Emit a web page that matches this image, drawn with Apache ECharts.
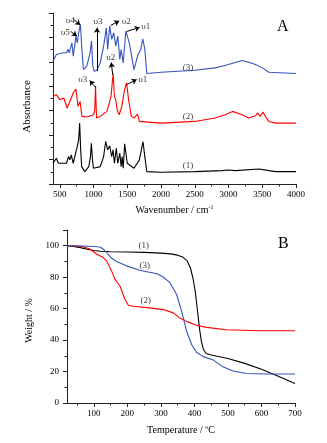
<!DOCTYPE html>
<html><head><meta charset="utf-8">
<script src="https://cdn.jsdelivr.net/npm/echarts@6/dist/echarts.min.js"></script>
<style>html,body{margin:0;padding:0;background:#fff}#c{width:327px;height:443px}</style>
</head><body><div id="c"></div>
<script>
// ---- Panel A: FTIR spectra (absorbance, arbitrary offset units) ----
const wn1 = [400,450,480,600,630,650,670,700,740,760,780,795,810,825,870,930,955,968,985,1000,1100,1150,1180,1210,1240,1270,1290,1310,1338,1360,1390,1410,1425,1440,1462,1500,1600,1680,1733,1760,1790,2000,2500,2900,3000,3100,3450,3600,3700,4000];
const abs1 = [62,77,62,62,82,72,87,62,97,112,132,182,102,52,37,52,82,122,72,47,52,82,127,102,114,82,102,62,107,62,92,52,82,47,120,62,47,72,127,82,37,35,37,40,42,40,45,40,37,37];
const wn2 = [400,450,500,560,610,700,740,770,800,830,900,1000,1018,1030,1045,1100,1200,1260,1290,1310,1330,1350,1380,1420,1460,1490,1520,1560,1600,1650,1680,1700,2000,2500,2800,2950,3060,3200,3300,3400,3430,3470,3510,3560,3600,3700,4000];
const abs2 = [262,267,252,257,227,272,284,232,247,202,200,207,220,292,197,202,217,262,330,262,252,222,207,232,282,302,252,202,197,209,187,182,182,187,197,207,217,207,197,204,212,202,215,197,187,182,182];
const wn3 = [400,450,550,600,620,640,660,680,700,720,740,760,790,806,825,850,900,950,970,990,1010,1050,1100,1150,1190,1210,1240,1270,1300,1330,1360,1390,1410,1440,1480,1530,1600,1660,1700,1730,1760,1790,2000,2500,2800,2900,3000,3200,3300,3400,3500,3600,4000];
const abs3 = [367,387,392,392,402,392,407,422,382,412,442,422,462,477,412,342,352,392,427,352,337,340,362,412,467,402,472,432,452,412,442,372,402,362,457,422,342,387,402,434,402,330,334,340,347,352,357,369,364,357,347,334,330];
const wnMajorTicks = [500,1000,1500,2000,2500,3000,3500,4000];
const wnMinorTicks = [750,1250,1750,2250,2750,3250,3750];
// annotation arrows [from, to] and texts [x, y, text]
const arrowsA = [
  [[662,456],[755,442]], [[707,492],[803,475]], [[1052,337],[1052,467]],
  [[1255,474],[1381,487]], [[1492,456],[1684,468]],
  [[1033,288],[944,309]], [[1285,327],[1262,363]], [[1492,297],[1640,312]]
];
const textsA = [
  [581,453,'υ5'],[655,489,'υ4'],[1067,484,'υ3'],[1484,486,'υ2'],[1773,471,'υ1'],
  [840,312,'υ3'],[1255,377,'υ2'],[1729,312,'υ1'],
  [2400,347,'(3)'],[2400,200,'(2)'],[2400,55,'(1)']
];

// ---- Panel B: TGA ----
const T1 = [20,40,60,80,100,120,150,200,250,300,330,350,365,378,388,396,403,410,416,421,427,435,450,500,550,600,650,700];
const W1 = [100,99.6,98.8,97.8,97,96.5,96.2,96,95.8,95.3,94.8,94,92.8,90.5,86,79,70,57,46,39,34,31.5,30.5,28.3,25.2,21.5,17,12.4];
const T2 = [20,50,68,88,108,128,138,153,163,178,193,203,217,267,307,337,357,377,406,436,496,595,700];
const W2 = [100,99.8,99.4,97.9,94.7,92.5,90.4,84,78.6,74.4,65.8,62.2,61.5,60.5,59.4,57.3,54,51.9,49.4,48.1,46.6,45.9,45.9];
const T3 = [20,60,100,118,128,138,153,168,197,237,257,287,307,327,347,362,377,392,406,426,456,485,515,555,615,700];
const W3 = [100,99.8,99.5,99.2,97.9,95.7,92,90,87.2,84.4,83.5,82.3,80.1,76.5,69,58.3,45.5,37,32.3,29.5,27.4,23,20.3,18.8,18.4,18.4];
const tMajorTicks = [100,200,300,400,500,600,700];
const tMinorTicks = [50,150,250,350,450,550,650];
const textsB = [[249,100,'(1)'],[252,87.6,'(3)'],[255,65.2,'(2)']];

const FONT = 'Liberation Serif';
const zip = (a, b) => a.map((v, i) => [v, b[i]]);
const axisLineStyle = {lineStyle: {color: '#222', width: 1}};
const lab = {color: '#000', fontFamily: FONT, fontSize: 9, formatter: v => String(v)};

function lineSeries(x, y, color, xi, yi) {
  return {type: 'line', data: zip(x, y), xAxisIndex: xi, yAxisIndex: yi, showSymbol: false,
    lineStyle: {color: color, width: 1.1}, itemStyle: {color: color}, animation: false, silent: true, z: 3};
}
function textSeries(data, xi, yi) {
  return {type: 'scatter', data: data, xAxisIndex: xi, yAxisIndex: yi, symbolSize: 2,
    itemStyle: {color: 'rgba(0,0,0,0)'}, animation: false, silent: true, z: 5,
    label: {show: true, position: 'inside', formatter: p => p.data[2], color: '#000', fontFamily: FONT, fontSize: 9},
    labelLayout: {hideOverlap: false}};
}

const chart = echarts.init(document.getElementById('c'), null, {renderer: 'canvas'});
chart.setOption({
  backgroundColor: '#fff',
  animation: false,
  grid: [
    {left: 53, top: 13, width: 243, height: 171},
    {left: 67, top: 230, width: 228, height: 173}
  ],
  xAxis: [
    {gridIndex: 0, type: 'value', min: 400, max: 4000, position: 'bottom',
     axisLine: axisLineStyle, splitLine: {show: false},
     axisTick: {length: 4, lineStyle: {color: '#222'}, customValues: wnMajorTicks},
     axisLabel: Object.assign({margin: 6, customValues: wnMajorTicks}, lab),
     name: 'Wavenumber / cm{sup|-1}', nameLocation: 'middle', nameGap: 20,
     nameTextStyle: {color: '#000', fontFamily: FONT, fontSize: 10,
       rich: {sup: {fontSize: 6, verticalAlign: 'top', padding: [0,0,6,0], fontFamily: FONT, color: '#000'}}}},
    {gridIndex: 0, type: 'value', min: 400, max: 4000, position: 'bottom',
     axisLine: {show: false}, splitLine: {show: false},
     axisTick: {length: 2.5, lineStyle: {color: '#222'}, customValues: wnMinorTicks},
     axisLabel: {show: false}},
    {gridIndex: 1, type: 'value', min: 20, max: 700, position: 'bottom',
     axisLine: axisLineStyle, splitLine: {show: false},
     axisTick: {length: 4, lineStyle: {color: '#222'}, customValues: tMajorTicks},
     axisLabel: Object.assign({margin: 6, customValues: tMajorTicks}, lab),
     name: 'Temperature / {sup|o}C', nameLocation: 'middle', nameGap: 21,
     nameTextStyle: {color: '#000', fontFamily: FONT, fontSize: 10,
       rich: {sup: {fontSize: 6, verticalAlign: 'top', padding: [0,0,6,0], fontFamily: FONT, color: '#000'}}}},
    {gridIndex: 1, type: 'value', min: 20, max: 700, position: 'bottom',
     axisLine: {show: false}, splitLine: {show: false},
     axisTick: {length: 2.5, lineStyle: {color: '#222'}, customValues: tMinorTicks},
     axisLabel: {show: false}}
  ],
  yAxis: [
    {gridIndex: 0, type: 'value', min: 0, max: 511, interval: 73, position: 'left',
     axisLine: Object.assign({show: true}, axisLineStyle), splitLine: {show: false},
     axisTick: {show: true, length: 4, lineStyle: {color: '#222'}},
     minorTick: {show: true, splitNumber: 2, length: 2.5, lineStyle: {color: '#222'}},
     axisLabel: {show: false},
     name: 'Absorbance', nameLocation: 'middle', nameGap: 20,
     nameTextStyle: {color: '#000', fontFamily: FONT, fontSize: 11, padding: [0, 16, 0, 0]}},
    {gridIndex: 1, type: 'value', min: 0, max: 110, interval: 20, position: 'left',
     axisLine: Object.assign({show: true}, axisLineStyle), splitLine: {show: false},
     axisTick: {show: true, length: 4, lineStyle: {color: '#222'}},
     minorTick: {show: true, splitNumber: 2, length: 2.5, lineStyle: {color: '#222'}},
     axisLabel: Object.assign({margin: 8, showMaxLabel: false}, lab),
     name: 'Weight / %', nameLocation: 'middle', nameGap: 33,
     nameTextStyle: {color: '#000', fontFamily: FONT, fontSize: 10, padding: [0, 8, 0, 0]}}
  ],
  graphic: [
    {type: 'text', left: 277, top: 19, style: {text: 'A', font: '16px "Liberation Serif"', fill: '#000'}},
    {type: 'text', left: 278, top: 236, style: {text: 'B', font: '16px "Liberation Serif"', fill: '#000'}}
  ],
  series: [
    lineSeries(wn1, abs1, '#000000', 0, 0),
    lineSeries(wn2, abs2, '#ff0000', 0, 0),
    lineSeries(wn3, abs3, '#3553bd', 0, 0),
    {type: 'lines', coordinateSystem: 'cartesian2d', xAxisIndex: 0, yAxisIndex: 0,
     data: arrowsA.map(a => ({coords: a})), symbol: ['none', 'arrow'], symbolSize: 5,
     lineStyle: {color: '#000', width: 1, opacity: 1, curveness: 0}, animation: false, silent: true, z: 4},
    textSeries(textsA, 0, 0),
    lineSeries(T1, W1, '#000000', 2, 1),
    lineSeries(T2, W2, '#ff0000', 2, 1),
    lineSeries(T3, W3, '#3553bd', 2, 1),
    textSeries(textsB, 2, 1)
  ]
});
</script></body></html>
